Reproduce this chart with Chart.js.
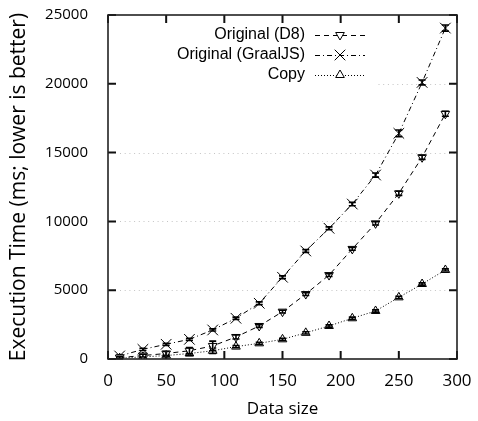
<!DOCTYPE html>
<html>
<head>
<meta charset="utf-8">
<script src="https://cdn.jsdelivr.net/npm/chart.js@4/dist/chart.umd.min.js"></script>
<style>
  html, body { margin: 0; padding: 0; background: #fff; }
</style>
</head>
<body>
<canvas id="c" width="478" height="421"></canvas>
<script>
// Benchmark: execution time vs. data size
const dataSizes = [10, 30, 50, 70, 90, 110, 130, 150, 170, 190, 210, 230, 250, 270, 290];

const timeD8     = [100, 250, 400, 600, 950, 1600, 2400, 3440, 4720, 6100, 8000, 9860, 12040, 14660, 17820];
const errD8      = [60, 100, 150, 230, 350, 150, 100, 100, 100, 100, 100, 120, 150, 150, 180];

const timeGraal  = [220, 700, 1070, 1430, 2110, 2960, 4050, 5940, 7850, 9500, 11260, 13370, 16400, 20100, 24050];
const errGraal   = [60, 80, 80, 80, 80, 80, 100, 100, 100, 100, 120, 150, 240, 180, 220];

const timeCopy   = [60, 150, 250, 400, 600, 900, 1140, 1430, 1900, 2400, 2960, 3490, 4480, 5450, 6470];
const errCopy    = [40, 60, 80, 150, 200, 80, 80, 80, 80, 80, 80, 80, 80, 80, 80];

const seriesNames = ['Original (D8)', 'Original (GraalJS)', 'Copy'];
const xTicks = [0, 50, 100, 150, 200, 250, 300];
const yTicks = [0, 5000, 10000, 15000, 20000, 25000];

const pts = (xs, ys) => xs.map((x, i) => ({ x, y: ys[i] }));

const styles = [
  { dash: [5, 4],        pointStyle: 'triangle', rotation: 180, radius: 5 },
  { dash: [5, 3, 1, 3],  pointStyle: 'crossRot', rotation: 0,   radius: 7.5 },
  { dash: [1, 2],        pointStyle: 'triangle', rotation: 0,   radius: 5 }
];
const errors = [errD8, errGraal, errCopy];

const datasets = [timeD8, timeGraal, timeCopy].map((vals, i) => ({
  label: seriesNames[i],
  data: pts(dataSizes, vals),
  borderColor: '#000',
  borderWidth: 1,
  borderDash: styles[i].dash,
  pointStyle: styles[i].pointStyle,
  pointRotation: styles[i].rotation,
  pointRadius: styles[i].radius,
  pointBorderWidth: 1,
  pointBorderColor: '#000',
  pointBackgroundColor: '#fff',
  fill: false,
  tension: 0
}));

// error bars drawn after each series
const errorBars = {
  id: 'errorBars',
  afterDatasetDraw(chart, args) {
    const { ctx, scales: { y } } = chart;
    const errs = errors[args.index];
    ctx.save();
    ctx.strokeStyle = '#000';
    ctx.lineWidth = 1.6;
    ctx.setLineDash([]);
    args.meta.data.forEach((el, j) => {
      const v = chart.data.datasets[args.index].data[j].y;
      const top = y.getPixelForValue(v + errs[j]);
      const bot = y.getPixelForValue(v - errs[j]);
      const px = el.x, hw = 3.5;
      ctx.beginPath();
      ctx.moveTo(px, top); ctx.lineTo(px, bot);
      ctx.moveTo(px - hw, top); ctx.lineTo(px + hw, top);
      ctx.moveTo(px - hw, bot); ctx.lineTo(px + hw, bot);
      ctx.stroke();
    });
    ctx.restore();
  }
};

// dotted grid, opaque key box, border with inward ticks, key entries
const frame = {
  id: 'frame',
  beforeDatasetsDraw(chart) {
    const { ctx, chartArea: a, scales: { y } } = chart;
    ctx.save();
    ctx.strokeStyle = '#c4c4c4';
    ctx.lineWidth = 1;
    ctx.setLineDash([1, 3.7]);
    yTicks.slice(1, -1).forEach(v => {
      const py = Math.round(y.getPixelForValue(v)) + 0.5;
      ctx.beginPath(); ctx.moveTo(a.left + 12, py); ctx.lineTo(a.right, py); ctx.stroke();
    });
    ctx.fillStyle = '#fff';
    ctx.fillRect(a.left + 1, a.top + 1, a.right - 82 - a.left, 74);
    ctx.restore();
  },
  afterDatasetsDraw(chart) {
    const { ctx, chartArea: a, scales: { x, y } } = chart;
    ctx.save();
    ctx.setLineDash([]);
    ctx.strokeStyle = '#111';
    ctx.lineWidth = 2;
    const tl = 8;
    xTicks.forEach(v => {
      const px = x.getPixelForValue(v);
      ctx.beginPath();
      ctx.moveTo(px, a.bottom); ctx.lineTo(px, a.bottom - tl);
      ctx.moveTo(px, a.top); ctx.lineTo(px, a.top + tl);
      ctx.stroke();
    });
    yTicks.forEach(v => {
      const py = y.getPixelForValue(v);
      ctx.beginPath();
      ctx.moveTo(a.left, py); ctx.lineTo(a.left + tl, py);
      ctx.moveTo(a.right, py); ctx.lineTo(a.right - tl, py);
      ctx.stroke();
    });
    ctx.lineWidth = 1.6;
    ctx.strokeStyle = '#222';
    ctx.strokeRect(a.left, a.top, a.right - a.left, a.bottom - a.top);

    ctx.font = '16px "Liberation Sans", Arial, sans-serif';
    ctx.textAlign = 'right';
    ctx.textBaseline = 'middle';
    const textRight = a.right - 152;
    const sx0 = a.right - 142, sx1 = a.right - 92, sxm = (sx0 + sx1) / 2;
    seriesNames.forEach((name, i) => {
      const ky = a.top + 20 + i * 20;
      ctx.fillStyle = '#000';
      ctx.fillText(name, textRight, ky);
      ctx.strokeStyle = '#000';
      ctx.lineWidth = 1;
      ctx.setLineDash(styles[i].dash);
      ctx.beginPath(); ctx.moveTo(sx0, ky + 0.5); ctx.lineTo(sx1, ky + 0.5); ctx.stroke();
      ctx.setLineDash([]);
      ctx.fillStyle = '#fff';
      Chart.helpers.drawPoint(ctx, {
        pointStyle: styles[i].pointStyle,
        radius: styles[i].radius,
        rotation: styles[i].rotation,
        borderWidth: 1
      }, sxm, ky);
    });
    ctx.restore();
  }
};

new Chart(document.getElementById('c'), {
  type: 'line',
  data: { datasets },
  options: {
    responsive: false,
    animation: false,
    events: [],
    layout: { padding: { left: 0, top: 15, right: 21, bottom: 0 } },
    plugins: { legend: { display: false }, tooltip: { enabled: false } },
    scales: {
      x: {
        type: 'linear', min: 0, max: 300,
        afterBuildTicks: s => { s.ticks = xTicks.map(v => ({ value: v })); },
        afterFit: s => { s.height = 62; s.paddingLeft = 0; s.paddingRight = 0; },
        grid: { display: false, drawTicks: false },
        border: { display: false },
        ticks: { color: '#000', padding: 12, font: { family: '"Open Sans"', size: 17 } },
        title: { display: true, text: 'Data size', color: '#000', padding: { top: 0, bottom: 2 },
                 font: { family: '"Open Sans"', size: 17 } }
      },
      y: {
        type: 'linear', min: 0, max: 25000,
        afterBuildTicks: s => { s.ticks = yTicks.map(v => ({ value: v })); },
        afterFit: s => { s.width = 108; s.paddingTop = 0; s.paddingBottom = 0; },
        grid: { display: false, drawTicks: false },
        border: { display: false },
        ticks: { color: '#000', padding: 20, font: { family: '"Open Sans"', size: 15 },
                 callback: v => String(v) },
        title: { display: true, text: 'Execution Time (ms; lower is better)', color: '#000',
                 padding: { top: 6, bottom: 0 }, font: { family: '"Open Sans"', size: 21 } }
      }
    }
  },
  plugins: [frame, errorBars]
});
</script>
</body>
</html>
